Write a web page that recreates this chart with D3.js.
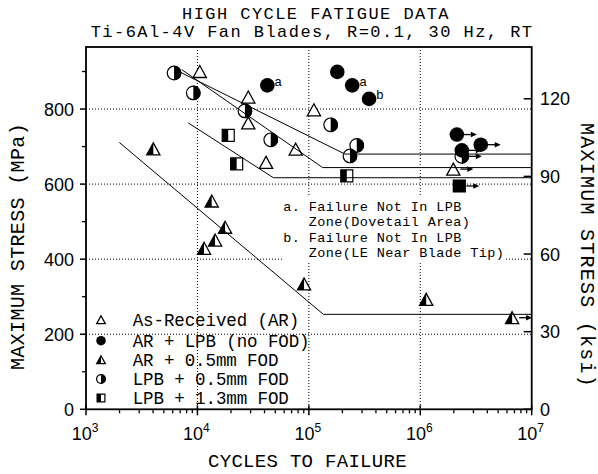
<!DOCTYPE html>
<html>
<head>
<meta charset="utf-8">
<script src="https://cdn.jsdelivr.net/npm/d3@7"></script>
<style>
  body { margin: 0; background: #fff; }
  text { fill: #000; }
  .mono { font-family: "Liberation Mono", "DejaVu Sans Mono", monospace; }
  .sans { font-family: "Liberation Sans", Arial, sans-serif; }
</style>
</head>
<body>
<div id="chart"></div>
<script>
////////////////////////////////////////////////////////////////
// Data (cycles, MPa)

let asReceived = [[10500,900],[28600,832],[28600,763],[41300,658],[76200,693],[111000,798]]
let asReceivedRunout = [[1.98e6,640]]

let arLpb = [[42400,863],[180000,899],[245000,863],[347000,827]]
let arLpbNotes = ["a","","a","b"]
let arLpbRunout = [[2.13e6,732],[3.49e6,705],[2.36e6,690]]

let arFod = [[4020,694],[13430,555],[17700,485],[14400,451],[11460,429],[90600,334],[1.13e6,293]]
let arFodRunout = [[6.67e6,244]]

let lpbFod05 = [[6170,896],[9180,843],[26700,795],[45500,718],[157000,758],[269000,703],[234000,675]]
let lpbFod05Runout = [[2.36e6,674]]

let lpbFod13 = [[18900,730],[22500,654],[219000,622]]
let lpbFod13Runout = [[2.24e6,595]]

// fatigue limit fits
let fitLines = [
  [[6300,905],[211000,680],[1e7,680]],
  [[7230,905],[133000,644],[1e7,644]],
  [[8280,763],[48000,617],[1e7,617]],
  [[1990,711],[135000,253],[1e7,253]]
]

let yTicksMPa = [0,200,400,600,800]
let yMinorMPa = [100,300,500,700,900]
let yTicksKsi = [0,30,60,90,120]
let xDecades = [3,4,5,6,7]

let legendLabels = ["As-Received (AR)","AR + LPB (no FOD)","AR + 0.5mm FOD","LPB + 0.5mm FOD","LPB + 1.3mm FOD"]
let legendTypes = ["tri","circle","halftri","halfcircle","halfsquare"]

let noteLines = ["a. Failure Not In LPB","   Zone(Dovetail Area)","b. Failure Not In LPB","   Zone(LE Near Blade Tip)"]

////////////////////////////////////////////////////////////////
// Setup

let W = 598, H = 474
let pLeft = 86, pRight = 531.7, pTop = 47, pBottom = 409.3

let svg = d3.select("#chart").append("svg")
  .attr("width", W)
  .attr("height", H)

let x = d3.scaleLog().domain([1e3,1e7]).range([pLeft,pRight])
let y = d3.scaleLinear().domain([0,965.3]).range([pBottom,pTop])
let yK = d3.scaleLinear().domain([0,140]).range([pBottom,pTop])

////////////////////////////////////////////////////////////////
// Grid

svg.selectAll(".hgrid")
  .data([200,400,600,800])
  .enter().append("line")
  .attr("x1", pLeft).attr("x2", pRight)
  .attr("y1", d => y(d)).attr("y2", d => y(d))
  .attr("stroke", "#000")
  .attr("stroke-width", 1)
  .attr("stroke-dasharray", "1,2")

svg.selectAll(".vgrid")
  .data([1e4,1e5,1e6])
  .enter().append("line")
  .attr("x1", d => x(d)).attr("x2", d => x(d))
  .attr("y1", pTop).attr("y2", pBottom)
  .attr("stroke", "#000")
  .attr("stroke-width", 1)
  .attr("stroke-dasharray", "1,2")

// notes box (white behind the text hides the grid)
svg.append("rect")
  .attr("x", 282).attr("y", 197)
  .attr("width", 224).attr("height", 65)
  .attr("fill", "#fff")

svg.selectAll(".note")
  .data(noteLines)
  .enter().append("text")
  .attr("class", "mono")
  .attr("x", 283.3)
  .attr("y", (d,i) => 211 + i*15.4)
  .attr("font-size", 13.5)
  .attr("letter-spacing", 0.4)
  .style("white-space", "pre")
  .text(d => d)

////////////////////////////////////////////////////////////////
// Markers

function addMarker(type, cx, cy, k) {
  let g = svg.append("g").attr("transform", `translate(${cx},${cy}) scale(${k})`)
  let s = 6, r = 7.3
  if (type == "tri" || type == "halftri") {
    g.append("path")
      .attr("d", `M0,${-s}L${s*1.1},${s}L${-s*1.1},${s}Z`)
      .attr("fill", "#fff")
    if (type == "halftri")
      g.append("path").attr("d", `M0,${-s}L${-s*1.1},${s}L0,${s}Z`).attr("fill", "#000")
    g.append("path")
      .attr("d", `M0,${-s}L${s*1.1},${s}L${-s*1.1},${s}Z`)
      .attr("fill", "none").attr("stroke", "#000").attr("stroke-width", 1.3)
      .attr("vector-effect", "non-scaling-stroke")
  } else if (type == "circle") {
    g.append("circle").attr("r", r).attr("fill", "#000")
  } else if (type == "halfcircle") {
    g.append("circle").attr("r", r - 0.5).attr("fill", "#fff")
    g.append("path").attr("d", `M0,${-r}A${r},${r} 0 0 1 0,${r}Z`).attr("fill", "#000")
    g.append("circle").attr("r", r - 0.5).attr("fill", "none")
      .attr("stroke", "#000").attr("stroke-width", 1.2)
      .attr("vector-effect", "non-scaling-stroke")
  } else if (type == "halfsquare" || type == "square") {
    g.append("rect").attr("x", -s).attr("y", -s).attr("width", 2*s).attr("height", 2*s)
      .attr("fill", type == "square" ? "#000" : "#fff")
    g.append("rect").attr("x", -s).attr("y", -s).attr("width", s).attr("height", 2*s)
      .attr("fill", "#000")
    g.append("rect").attr("x", -s).attr("y", -s).attr("width", 2*s).attr("height", 2*s)
      .attr("fill", "none").attr("stroke", "#000").attr("stroke-width", 1.2)
      .attr("vector-effect", "non-scaling-stroke")
  }
}

function addArrow(cx, cy) {
  let x0 = cx + 7, x1 = cx + 20
  svg.append("line")
    .attr("x1", x0).attr("x2", x1 - 4)
    .attr("y1", cy).attr("y2", cy)
    .attr("stroke", "#000").attr("stroke-width", 1.3)
  svg.append("path")
    .attr("d", `M${x1},${cy}L${x1-6},${cy-2.8}L${x1-6},${cy+2.8}Z`)
    .attr("fill", "#000")
}

function drawSeries(pts, type) {
  pts.forEach(d => addMarker(type, x(d[0]), y(d[1]), 1))
}

function drawRunouts(pts, type) {
  pts.forEach(d => {
    addMarker(type, x(d[0]), y(d[1]), 1)
    addArrow(x(d[0]), y(d[1]))
  })
}

drawSeries(asReceived, "tri")
drawRunouts(asReceivedRunout, "tri")
drawSeries(arFod, "halftri")
drawRunouts(arFodRunout, "halftri")
drawSeries(lpbFod13, "halfsquare")
drawRunouts(lpbFod13Runout, "square")
drawSeries(lpbFod05, "halfcircle")
drawRunouts(lpbFod05Runout, "halfcircle")
drawSeries(arLpb, "circle")
drawRunouts(arLpbRunout, "circle")

// a / b notes next to the filled circles
arLpb.forEach((d,i) => {
  if (arLpbNotes[i] == "") return
  svg.append("text")
    .attr("class", "mono")
    .attr("x", x(d[0]) + 7)
    .attr("y", y(d[1]) + 0.5)
    .attr("font-size", 13)
    .text(arLpbNotes[i])
})

////////////////////////////////////////////////////////////////
// Fit lines

let line = d3.line().x(d => x(d[0])).y(d => y(d[1]))

svg.selectAll(".fit")
  .data(fitLines)
  .enter().append("path")
  .attr("d", d => line(d))
  .attr("fill", "none")
  .attr("stroke", "#000")
  .attr("stroke-width", 1)

////////////////////////////////////////////////////////////////
// Axes

svg.append("rect")
  .attr("x", pLeft).attr("y", pTop)
  .attr("width", pRight - pLeft).attr("height", pBottom - pTop)
  .attr("fill", "none")
  .attr("stroke", "#000")
  .attr("stroke-width", 1.8)

// bottom ticks
let minor = []
xDecades.slice(0,4).forEach(k => d3.range(2,10).forEach(m => minor.push(m*Math.pow(10,k))))

svg.selectAll(".xminor")
  .data(minor)
  .enter().append("line")
  .attr("x1", d => x(d)).attr("x2", d => x(d))
  .attr("y1", pBottom).attr("y2", pBottom + 4)
  .attr("stroke", "#000").attr("stroke-width", 1.3)

svg.selectAll(".xmajor")
  .data(xDecades)
  .enter().append("line")
  .attr("x1", d => x(Math.pow(10,d))).attr("x2", d => x(Math.pow(10,d)))
  .attr("y1", pBottom - 4).attr("y2", pBottom + 6)
  .attr("stroke", "#000").attr("stroke-width", 1.5)

let xl = svg.selectAll(".xlab")
  .data(xDecades)
  .enter().append("text")
  .attr("class", "sans")
  .attr("x", d => x(Math.pow(10,d)) - 1)
  .attr("y", 440)
  .attr("text-anchor", "middle")
  .attr("font-size", 18)
xl.append("tspan").text("10")
xl.append("tspan").attr("dy", -8).attr("font-size", 12).text(d => d)

// left ticks (MPa)
svg.selectAll(".ymajor")
  .data(yTicksMPa)
  .enter().append("line")
  .attr("x1", pLeft - 6).attr("x2", pLeft)
  .attr("y1", d => y(d)).attr("y2", d => y(d))
  .attr("stroke", "#000").attr("stroke-width", 1.5)

svg.selectAll(".yminor")
  .data(yMinorMPa)
  .enter().append("line")
  .attr("x1", pLeft - 4).attr("x2", pLeft)
  .attr("y1", d => y(d)).attr("y2", d => y(d))
  .attr("stroke", "#000").attr("stroke-width", 1.3)

svg.selectAll(".ylab")
  .data(yTicksMPa)
  .enter().append("text")
  .attr("class", "sans")
  .attr("x", 74)
  .attr("y", d => y(d) + 6.5)
  .attr("text-anchor", "end")
  .attr("font-size", 18)
  .text(d => d)

// right ticks (ksi)
svg.selectAll(".kmajor")
  .data(yTicksKsi)
  .enter().append("line")
  .attr("x1", pRight - 8).attr("x2", pRight)
  .attr("y1", d => yK(d)).attr("y2", d => yK(d))
  .attr("stroke", "#000").attr("stroke-width", 1.5)

svg.selectAll(".klab")
  .data(yTicksKsi)
  .enter().append("text")
  .attr("class", "sans")
  .attr("x", 540)
  .attr("y", d => yK(d) + 6.5)
  .attr("font-size", 18)
  .text(d => d)

////////////////////////////////////////////////////////////////
// Titles and axis labels

svg.append("text")
  .attr("class", "mono")
  .attr("x", 182).attr("y", 19)
  .attr("font-size", 17)
  .attr("letter-spacing", 1.45)
  .text("HIGH CYCLE FATIGUE DATA")

svg.append("text")
  .attr("class", "mono")
  .attr("x", 90.7).attr("y", 36.7)
  .attr("font-size", 17)
  .attr("letter-spacing", 1.45)
  .text("Ti-6Al-4V Fan Blades, R=0.1, 30 Hz, RT")

svg.append("text")
  .attr("class", "mono")
  .attr("x", 208).attr("y", 467)
  .attr("font-size", 19)
  .attr("letter-spacing", 0.3)
  .text("CYCLES TO FAILURE")

svg.append("text")
  .attr("class", "mono")
  .attr("transform", "translate(24,246.5) rotate(-90)")
  .attr("text-anchor", "middle")
  .attr("font-size", 20)
  .attr("letter-spacing", 0.35)
  .text("MAXIMUM STRESS (MPa)")

svg.append("text")
  .attr("class", "mono")
  .attr("transform", "translate(581,255.5) rotate(90)")
  .attr("text-anchor", "middle")
  .attr("font-size", 20)
  .attr("letter-spacing", 1.25)
  .text("MAXIMUM STRESS (ksi)")

////////////////////////////////////////////////////////////////
// Legend

let legendBase = [325.7, 346.7, 365.7, 385, 404]

legendTypes.forEach((t,i) => addMarker(t, 101, legendBase[i] - 6, 0.65))

svg.selectAll(".leg")
  .data(legendLabels)
  .enter().append("text")
  .attr("class", "mono")
  .attr("x", 132.7)
  .attr("y", (d,i) => legendBase[i])
  .attr("font-size", 17.5)
  .attr("letter-spacing", -0.1)
  .text(d => d)
</script>
</body>
</html>
